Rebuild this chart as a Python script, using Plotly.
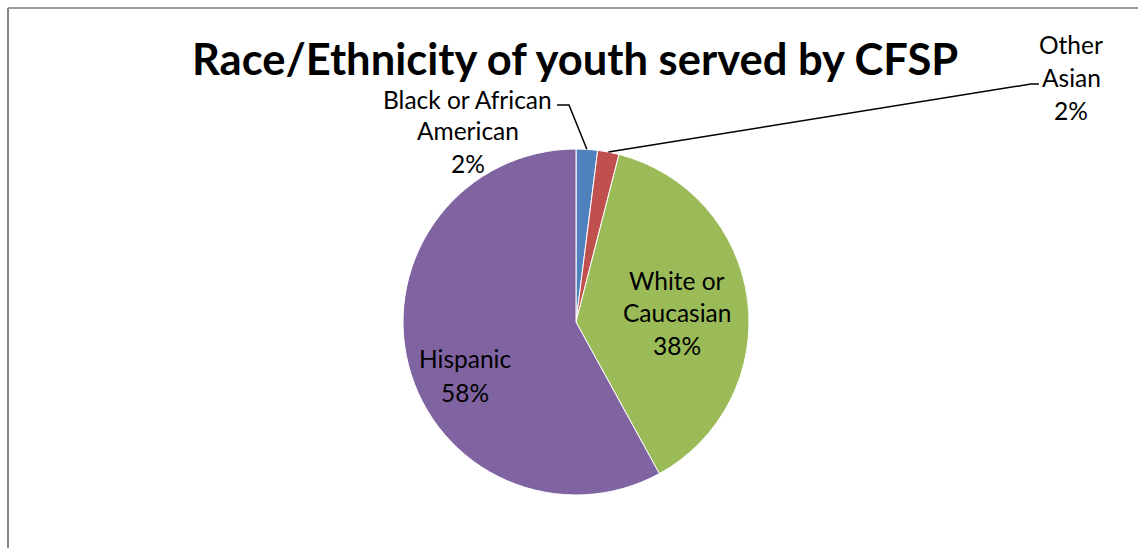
import math
import plotly.graph_objects as go

W, H = 1138, 548

# Share of youth served, by race/ethnicity (percent)
categories = ["Black or African American", "Other Asian", "White or Caucasian", "Hispanic"]
shares = [2, 2, 38, 58]
colors = ["#4F81BD", "#C0504D", "#9BBB59", "#8064A2"]

# Pie geometry in pixels
cx, cy, radius = 576, 322, 173


def px(x):
    return x / W


def py(y):
    return 1 - y / H


fig = go.Figure(
    go.Pie(
        labels=categories,
        values=shares,
        sort=False,
        direction="clockwise",
        rotation=0,
        marker=dict(colors=colors, line=dict(color="white", width=1)),
        textinfo="none",
        hoverinfo="label+percent",
        domain=dict(x=[px(cx - radius), px(cx + radius)], y=[py(cy + radius), py(cy - radius)]),
        showlegend=False,
    )
)


def slice_mid_point(i):
    """Pixel point on the rim at the middle angle of slice i."""
    total = sum(shares)
    before = sum(shares[:i])
    frac = (before + shares[i] / 2) / total
    ang = 2 * math.pi * frac
    return cx + radius * math.sin(ang), cy - radius * math.cos(ang)


font = "Lato, 'Open Sans', sans-serif"
annotations = []


def text_lines(lines, x, y0, step=33, size=24.5):
    for k, t in enumerate(lines):
        annotations.append(
            dict(
                x=px(x), y=py(y0 + k * step), xref="paper", yref="paper",
                text=t, showarrow=False, xanchor="center", yanchor="middle",
                font=dict(family=font, size=size, color="black"),
            )
        )


pct = [f"{v}%" for v in shares]
text_lines(["Black or African", "American", pct[0]], 468, 99, step=32)
text_lines(["Other", "Asian", pct[1]], 1071, 44)
text_lines(["White or", "Caucasian", pct[2]], 677, 280, step=32.5)
text_lines(["Hispanic", pct[3]], 465, 358, step=34)

# Title
annotations.append(
    dict(
        x=px(575), y=py(58), xref="paper", yref="paper",
        text="<b>Race/Ethnicity of youth served by CFSP</b>", showarrow=False,
        xanchor="center", yanchor="middle",
        font=dict(family=font, size=43.5, color="black"),
    )
)

shapes = []
# Leader lines to the two small slices
bx, by = slice_mid_point(0)
shapes.append(dict(type="path", xref="paper", yref="paper",
                   path=f"M {px(557)} {py(105)} L {px(569)} {py(105)} L {px(bx)} {py(by)}",
                   line=dict(color="black", width=1.5)))
ax_, ay_ = slice_mid_point(1)
shapes.append(dict(type="path", xref="paper", yref="paper",
                   path=f"M {px(ax_)} {py(ay_)} L {px(1031)} {py(84)} L {px(1039)} {py(84)}",
                   line=dict(color="black", width=1.5)))

# Chart area frame (top and left edges)
shapes.append(dict(type="line", xref="paper", yref="paper",
                   x0=px(8), y0=py(8), x1=1, y1=py(8), line=dict(color="#9a9a9a", width=2)))
shapes.append(dict(type="line", xref="paper", yref="paper",
                   x0=px(8), y0=py(8), x1=px(8), y1=0, line=dict(color="#858585", width=2)))

fig.update_layout(
    width=W, height=H,
    margin=dict(l=0, r=0, t=0, b=0),
    paper_bgcolor="white", plot_bgcolor="white",
    annotations=annotations, shapes=shapes,
)

fig.write_html("out.html")
